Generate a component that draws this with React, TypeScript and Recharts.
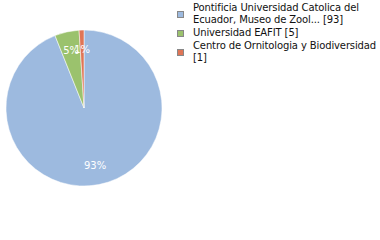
import React from "react";
import { PieChart, Pie, Cell, Legend } from "recharts";

const institutions = [
  "Pontificia Universidad Catolica del Ecuador, Museo de Zool...",
  "Universidad EAFIT",
  "Centro de Ornitologia y Biodiversidad",
];
const records = [93, 5, 1];
const colors = ["#9dbadf", "#9bc26d", "#df7556"];
const legendLines = [
  ["Pontificia Universidad Catolica del", "Ecuador, Museo de Zool... [93]"],
  ["Universidad EAFIT [5]"],
  ["Centro de Ornitologia y Biodiversidad", "[1]"],
];

const data = institutions.map((name, i) => ({ name, value: records[i] }));
const total = records.reduce((a, b) => a + b, 0);
const FONT = "'DejaVu Sans', sans-serif";

const RADIAN = Math.PI / 180;
function renderLabel(props: any) {
  const { cx, cy, midAngle, outerRadius, value } = props;
  const r = outerRadius * 0.75;
  const x = cx + r * Math.cos(-midAngle * RADIAN);
  const y = cy + r * Math.sin(-midAngle * RADIAN);
  return (
    <text x={x} y={y} fill="#ffffff" fontSize={10} fontFamily={FONT} textAnchor="middle" dominantBaseline="central">
      {Math.floor((value / total) * 100)}%
    </text>
  );
}

function LegendContent() {
  return (
    <div
      style={{
        fontFamily: FONT,
        fontSize: 10,
        letterSpacing: "-0.12px",
        color: "#111",
        lineHeight: "12px",
        whiteSpace: "nowrap",
      }}
    >
      {legendLines.map((lines, i) => (
        <div key={i} style={{ display: "flex", alignItems: "center", marginBottom: 1 }}>
          <div
            style={{
              width: 5,
              height: 5,
              background: colors[i],
              border: "1px solid #888",
              marginRight: 9,
              flexShrink: 0,
            }}
          />
          <div>
            {lines.map((l, j) => (
              <div key={j}>{l}</div>
            ))}
          </div>
        </div>
      ))}
    </div>
  );
}

export default function App() {
  return (
    <div style={{ position: "absolute", left: 0, top: 0, width: 380, height: 240, background: "#fff" }}>
      <PieChart width={380} height={240} margin={{ top: 0, right: 0, bottom: 0, left: 0 }}>
        <Pie
          data={data}
          dataKey="value"
          nameKey="name"
          cx={84}
          cy={108}
          outerRadius={78}
          startAngle={90}
          endAngle={-270}
          stroke="#ffffff"
          strokeWidth={0.5}
          label={renderLabel}
          labelLine={false}
          isAnimationActive={false}
        >
          {data.map((d, i) => (
            <Cell key={d.name} fill={colors[i]} />
          ))}
        </Pie>
        <Legend
          layout="vertical"
          align="right"
          verticalAlign="top"
          content={LegendContent}
          wrapperStyle={{ left: 177, top: 2, width: 203 }}
        />
      </PieChart>
    </div>
  );
}
